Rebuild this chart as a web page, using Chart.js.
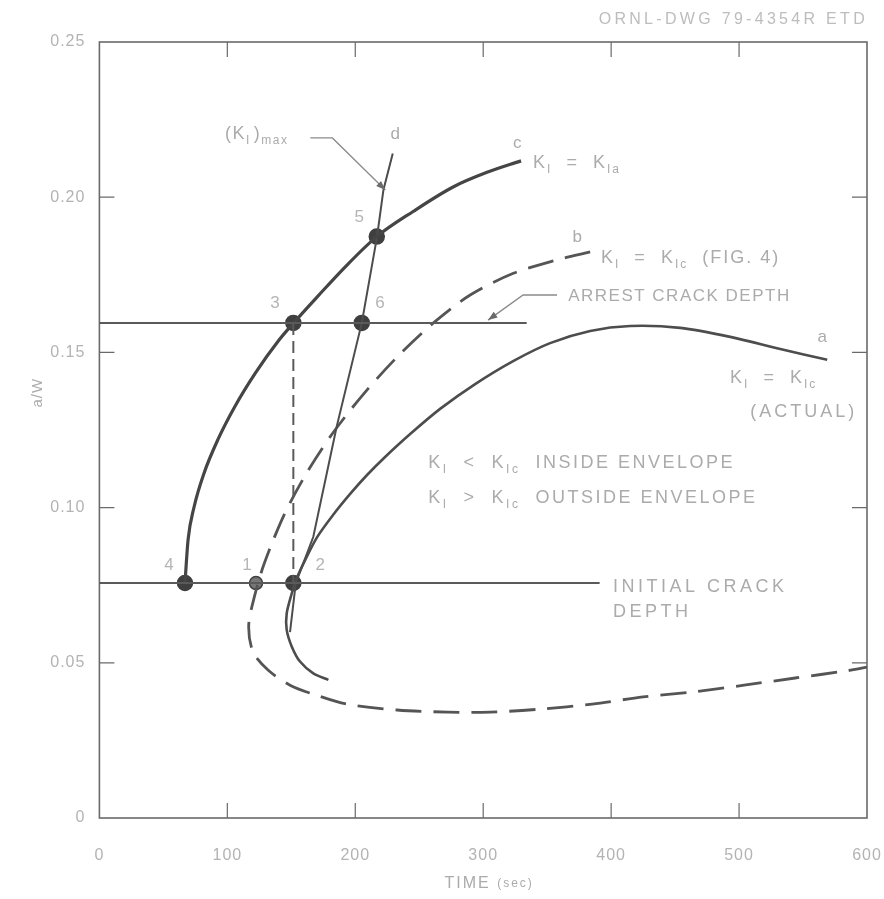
<!DOCTYPE html>
<html><head><meta charset="utf-8">
<script src="https://cdn.jsdelivr.net/npm/chart.js@4.4.1/dist/chart.umd.min.js"></script>
<style>html,body{margin:0;padding:0;background:#fff;overflow:hidden}#wrap{width:884px;height:899px}</style>
</head><body><div id="wrap"><canvas id="cv" width="884" height="899"></canvas></div>
<script>
// ---------- data ----------
const xTicks = [0, 100, 200, 300, 400, 500, 600];
const yTicks = [0, 0.05, 0.10, 0.15, 0.20, 0.25];
const yTickLabels = ["0", "0.05", "0.10", "0.15", "0.20", "0.25"];

const arrestDepth = 0.1595;           // ARREST CRACK DEPTH
const arrestX = [0, 334];
const initialDepth = 0.0757;          // INITIAL CRACK DEPTH
const initialX = [0, 391];

// curve c : K_I = K_Ia
const curveC_x = [66.9, 69.3, 74.0, 81.8, 92.5, 105.8, 122.0, 140.4, 151.6, 170.1, 192.0, 216.8, 245.2, 276.5, 303.0, 329.6];
const curveC_y = [0.0757, 0.0896, 0.1002, 0.1111, 0.1218, 0.1325, 0.1434, 0.1540, 0.1594, 0.1678, 0.1775, 0.1873, 0.1954, 0.2033, 0.2080, 0.2117];

// line d : (K_I)max
const lineD_x = [149.0, 153.5, 167.2, 185.5, 205.1, 217.0, 222.0, 229.3];
const lineD_y = [0.0599, 0.0757, 0.0906, 0.1261, 0.1595, 0.1872, 0.2023, 0.2141];

// curve a : K_I = K_Ic (ACTUAL)
const curveA_x = [179.0, 167.2, 156.8, 150.4, 146.4, 146.4, 150.4, 153.7, 160.8, 170.2, 182.6, 196.0, 209.2, 223.3, 242.9, 266.3, 293.7, 323.4, 352.3, 383.6, 414.9, 454.0, 493.1, 532.2, 568.9];
const curveA_y = [0.0445, 0.0466, 0.0504, 0.0552, 0.0606, 0.0659, 0.0724, 0.0767, 0.0831, 0.0905, 0.0976, 0.1044, 0.1105, 0.1163, 0.1237, 0.1318, 0.1398, 0.1472, 0.1530, 0.1569, 0.1585, 0.1579, 0.1550, 0.1511, 0.1476];

// curve b : K_I = K_Ic (FIG. 4)
const curveB_x = [383.6, 357.5, 323.6, 289.8, 261.1, 232.7, 206.1, 181.9, 161.5, 144.3, 128.7, 120.9, 116.7, 120.1, 131.8, 149.0, 169.4, 193.6, 232.7, 272.6, 305.5, 345.3, 385.2, 425.0, 464.1, 504.0, 543.9, 583.8, 600];
const curveB_y = [0.1824, 0.1798, 0.1755, 0.1685, 0.1595, 0.1485, 0.1364, 0.1237, 0.1108, 0.0976, 0.0818, 0.0709, 0.0619, 0.0535, 0.0477, 0.0428, 0.0396, 0.0367, 0.0348, 0.0341, 0.0341, 0.0351, 0.0367, 0.0390, 0.0406, 0.0428, 0.0451, 0.0474, 0.0486];

// numbered points
const ptLabels = ["4", "1", "2", "3", "6", "5"];
const ptX = [66.9, 122.4, 151.6, 151.6, 205.1, 216.8];
const ptY = [0.0757, 0.0757, 0.0757, 0.1595, 0.1595, 0.1873];

// ---------- helpers ----------
const zip = (xs, ys) => xs.map((x, i) => ({x, y: ys[i]}));
const LINE = '#4d4d4d';
const TXT = '#ababab';
const FONT = '"Liberation Sans", Arial, sans-serif';

function drawParts(ctx, x, y, parts, size, align, ls) {
  ctx.letterSpacing = (ls || 0) + 'px';
  let total = 0;
  const fs = p => (p.sub ? Math.round(size * 0.66) : (p.size || size));
  const widths = parts.map(p => {
    ctx.font = fs(p) + 'px ' + FONT;
    const w = ctx.measureText(p.t).width + (p.gap || 0);
    total += w; return w;
  });
  let cx = align === 'center' ? x - total / 2 : x;
  parts.forEach((p, i) => {
    ctx.font = fs(p) + 'px ' + FONT;
    ctx.fillText(p.t, cx, y + (p.sub ? size * 0.38 : 0));
    cx += widths[i];
  });
}

const annotations = [
  {x: 98.2, y: 0.2204, s: 18, ls: 1.5, parts: [{t: '(K'}, {t: 'I', sub: 1, gap: 3}, {t: ')'}, {t: 'max', sub: 1}]},
  {x: 231.3, y: 0.2204, s: 17, parts: [{t: 'd'}], align: 'center'},
  {x: 326.6, y: 0.2175, s: 17, parts: [{t: 'c'}], align: 'center'},
  {x: 339.0, y: 0.2110, s: 18, ls: 2, parts: [{t: 'K'}, {t: 'I', sub: 1}, {t: '  =  K'}, {t: 'Ia', sub: 1}]},
  {x: 373.4, y: 0.1872, s: 17, parts: [{t: 'b'}], align: 'center'},
  {x: 392.1, y: 0.1804, s: 18, ls: 2, parts: [{t: 'K'}, {t: 'I', sub: 1}, {t: '  =  K'}, {t: 'Ic', sub: 1}, {t: '  (FIG. 4)'}]},
  {x: 366.4, y: 0.1682, s: 17, ls: 1.5, parts: [{t: 'ARREST CRACK DEPTH'}]},
  {x: 565.0, y: 0.1550, s: 17, parts: [{t: 'a'}], align: 'center'},
  {x: 493.0, y: 0.1418, s: 18, ls: 2, parts: [{t: 'K'}, {t: 'I', sub: 1}, {t: '  =  K'}, {t: 'Ic', sub: 1}]},
  {x: 508.7, y: 0.1308, s: 18, ls: 3, parts: [{t: '(ACTUAL)'}]},
  {x: 257.0, y: 0.1144, s: 18, ls: 2.5, parts: [{t: 'K'}, {t: 'I', sub: 1}, {t: '  <  K'}, {t: 'Ic', sub: 1}, {t: '  INSIDE ENVELOPE'}]},
  {x: 257.0, y: 0.1031, s: 18, ls: 2.5, parts: [{t: 'K'}, {t: 'I', sub: 1}, {t: '  >  K'}, {t: 'Ic', sub: 1}, {t: '  OUTSIDE ENVELOPE'}]},
  {x: 401.5, y: 0.0744, s: 18, ls: 3.5, parts: [{t: 'INITIAL CRACK'}]},
  {x: 401.5, y: 0.0664, s: 18, ls: 3.5, parts: [{t: 'DEPTH'}]}
];
const ptLabelPos = [[54.4, 0.0815], [115.4, 0.0815], [172.6, 0.0815], [137.3, 0.1659], [219.4, 0.1659], [203.0, 0.1934]];
const leaders = [
  [[164.9, 0.2191], [182.1, 0.2191], [223.5, 0.2023]],
  [[357.7, 0.1685], [331.2, 0.1685], [303.8, 0.1604]]
];

const deco = {
  id: 'deco',
  beforeDraw(chart) { chart.ctx.letterSpacing = '1px'; },
  beforeDatasetsDraw(chart) {
    const {ctx, chartArea: a, scales: {x, y}} = chart;
    ctx.save();
    ctx.strokeStyle = '#6a6a6a'; ctx.lineWidth = 1.6;
    ctx.strokeRect(a.left, a.top, a.right - a.left, a.bottom - a.top);
    ctx.lineWidth = 1.2;
    const L = 15;
    xTicks.slice(1, -1).forEach(v => {
      const px = x.getPixelForValue(v);
      ctx.beginPath(); ctx.moveTo(px, a.bottom); ctx.lineTo(px, a.bottom - L);
      ctx.moveTo(px, a.top); ctx.lineTo(px, a.top + L); ctx.stroke();
    });
    yTicks.slice(1, -1).forEach(v => {
      const py = y.getPixelForValue(v);
      ctx.beginPath(); ctx.moveTo(a.left, py); ctx.lineTo(a.left + L, py);
      ctx.moveTo(a.right, py); ctx.lineTo(a.right - L, py); ctx.stroke();
    });
    ctx.restore();
  },
  afterDatasetsDraw(chart) {
    const {ctx, chartArea: ca, scales: {x, y}} = chart;
    ctx.save();
    ctx.fillStyle = TXT; ctx.textBaseline = 'middle'; ctx.textAlign = 'left';
    annotations.forEach(an => drawParts(ctx, x.getPixelForValue(an.x), y.getPixelForValue(an.y), an.parts, an.s, an.align, an.ls));
    ctx.fillStyle = '#b5b5b5';
    ptLabels.forEach((t, i) => drawParts(ctx, x.getPixelForValue(ptLabelPos[i][0]), y.getPixelForValue(ptLabelPos[i][1]), [{t}], 17, 'center', 0));
    // leaders with arrow heads
    ctx.strokeStyle = '#8a8a8a'; ctx.fillStyle = '#6a6a6a'; ctx.lineWidth = 1.3;
    leaders.forEach(pts => {
      const p = pts.map(q => [x.getPixelForValue(q[0]), y.getPixelForValue(q[1])]);
      ctx.beginPath(); ctx.moveTo(p[0][0], p[0][1]);
      p.slice(1).forEach(q => ctx.lineTo(q[0], q[1])); ctx.stroke();
      const [x1, y1] = p[p.length - 2], [x2, y2] = p[p.length - 1];
      const ang = Math.atan2(y2 - y1, x2 - x1);
      ctx.beginPath(); ctx.moveTo(x2, y2);
      ctx.lineTo(x2 - 10 * Math.cos(ang - 0.35), y2 - 10 * Math.sin(ang - 0.35));
      ctx.lineTo(x2 - 10 * Math.cos(ang + 0.35), y2 - 10 * Math.sin(ang + 0.35));
      ctx.closePath(); ctx.fill();
    });
    // x title
    ctx.fillStyle = TXT;
    drawParts(ctx, (ca.left + ca.right) / 2 + 6, 884, [{t: 'TIME '}, {t: '(sec)', size: 12}], 16, 'center', 2);
    // y title
    ctx.translate(38, y.getPixelForValue(0.137));
    ctx.rotate(-Math.PI / 2);
    drawParts(ctx, 0, 0, [{t: 'a/W'}], 15, 'center', 1);
    ctx.restore();
    // drawing number
    ctx.save();
    ctx.fillStyle = '#bdbdbd'; ctx.textBaseline = 'middle'; ctx.textAlign = 'right';
    ctx.letterSpacing = '3.3px';
    ctx.font = '16px ' + FONT;
    ctx.fillText('ORNL-DWG 79-4354R ETD', 868, 20);
    ctx.restore();
  }
};

const lineDs = (label, data, opts) => Object.assign({
  label, data, showLine: true, borderColor: LINE, borderWidth: 2,
  pointRadius: 0, pointHoverRadius: 0, tension: 0.25, fill: false
}, opts || {});

new Chart(document.getElementById('cv'), {
  type: 'scatter',
  data: {
    datasets: [
      lineDs('arrest', zip(arrestX, [arrestDepth, arrestDepth]), {borderColor: '#5a5a5a', tension: 0}),
      lineDs('initial', zip(initialX, [initialDepth, initialDepth]), {borderColor: '#5a5a5a', tension: 0}),
      lineDs('3-2', zip([ptX[3], ptX[2]], [ptY[3], ptY[2]]), {borderDash: [12, 6], tension: 0, borderColor: '#5a5a5a'}),
      lineDs('c', zip(curveC_x, curveC_y), {borderWidth: 3.2, borderColor: '#454545', cubicInterpolationMode: 'monotone'}),
      lineDs('d', zip(lineD_x, lineD_y), {borderWidth: 2, tension: 0}),
      lineDs('a', zip(curveA_x, curveA_y), {borderWidth: 2.6, tension: 0.3}),
      lineDs('b', zip(curveB_x, curveB_y), {borderWidth: 2.8, borderDash: [26, 12], borderColor: '#555', tension: 0.3}),
      {label: 'pts', data: zip(ptX, ptY), showLine: false,
       pointRadius: [7.5, 6.5, 7.5, 7.5, 7.5, 7.5],
       pointBackgroundColor: ['#3f3f3f', '#777', '#3f3f3f', '#3f3f3f', '#3f3f3f', '#3f3f3f'],
       pointBorderColor: '#3f3f3f', pointBorderWidth: 1.5}
    ]
  },
  options: {
    responsive: false, animation: false, devicePixelRatio: 1,
    layout: {padding: {left: 0, right: 17, top: 42, bottom: 0}},
    plugins: {legend: {display: false}, tooltip: {enabled: false}},
    scales: {
      x: {
        type: 'linear', position: 'bottom', min: 0, max: 600,
        afterFit(s) { s.height = 81; s.paddingLeft = 0; s.paddingRight = 0; },
        afterBuildTicks(s) { s.ticks = xTicks.map(v => ({value: v})); },
        ticks: {color: '#b3b3b3', font: {family: FONT, size: 16}, padding: 28, maxRotation: 0, autoSkip: false},
        grid: {display: false, drawTicks: false}, border: {display: false},
        title: {display: false}
      },
      y: {
        type: 'linear', min: 0, max: 0.25,
        afterFit(s) { s.width = 99.4; s.paddingTop = 0; s.paddingBottom = 0; },
        afterBuildTicks(s) { s.ticks = yTicks.map(v => ({value: v})); },
        ticks: {color: '#b3b3b3', font: {family: FONT, size: 16}, padding: 14, autoSkip: false,
          callback: (v) => { const i = yTicks.findIndex(t => Math.abs(t - v) < 1e-6); return i >= 0 ? yTickLabels[i] : ''; }},
        grid: {display: false, drawTicks: false}, border: {display: false}
      }
    }
  },
  plugins: [deco]
});
</script>
</body></html>
